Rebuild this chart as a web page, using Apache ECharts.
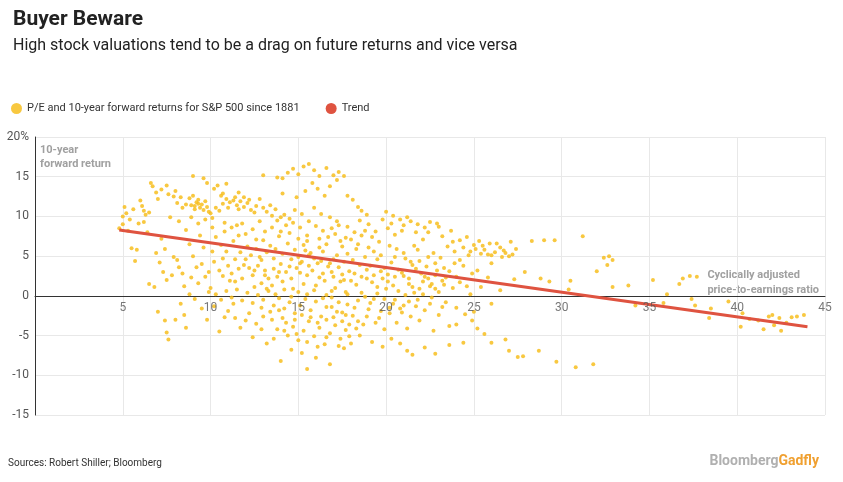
<!DOCTYPE html>
<html><head><meta charset="utf-8">
<script src="https://cdn.jsdelivr.net/npm/echarts@6/dist/echarts.min.js"></script>
<style>html,body{margin:0;padding:0;background:#fff}#c{width:843px;height:482px}</style>
</head><body><div id="c"></div>
<script>
var titleText = "Buyer Beware";
var subtitleText = "High stock valuations tend to be a drag on future returns and vice versa";
var scatterName = "P/E and 10-year forward returns for S&P 500 since 1881";
var trendName = "Trend";
var xTicks = [5,10,15,20,25,30,35,40,45];
var yTicks = [-15,-10,-5,0,5,10,15,20];
var trendLine = [[4.8,8.3],[44,-3.9]];
var points = [
[4.8,8.5],[5,10],[5,9],[5.1,11.2],[5.2,10.4],[5.3,8.2],[5.4,9.6],[5.5,6],[5.7,4.4],[5.8,5.8],[6,12],[6.1,11.3],[6.3,10.2],[6.5,10.5],[6.6,14.2],[6.7,13.8],[6.4,8],[6.2,9.3],[6.5,1.5],[6.8,1.1],[7,12.2],[7.2,13.4],[7.5,13.9],[7.3,3],[7.5,2],[7.8,2.6],[7,-2],[7.4,-3.1],[7.5,-4.6],[7.6,-5.5],[8,-3],[8.2,3.6],[8.5,1.2],[8.3,-1],[8.6,-4],[8.8,0.2],[7.9,12.5],[8.1,11.7],[8.3,12.4],[8.6,11.5],[8.8,12.3],[9,15.1],[9.2,11.8],[9.4,11.1],[9.6,10.8],[9.1,11.3],[9.3,11.6],[9.8,11.2],[10,10.4],[10.1,9.8],[9.6,14.8],[9.8,14.2],[10.2,13.5],[10.4,13.9],[10.6,12.6],[10.7,11.6],[10.9,12.2],[11.1,11.8],[11.3,12],[11.5,11.4],[11.7,11.9],[11.9,11.2],[12.1,11.7],[12.3,10.8],[12.5,10.5],[10.8,9.2],[11.2,8.6],[11.5,8.9],[11.8,9.1],[12,7.8],[12.4,8.4],[12.8,9.4],[13.2,10.6],[13.5,10.1],[13.8,9.5],[14.2,10.2],[14.5,9.7],[14.8,10.8],[15.2,10.3],[15.5,7.6],[8.8,6.5],[9,5],[9.2,3.6],[9.5,4],[9.7,2.4],[9.9,3],[10.2,4.3],[10.5,3.2],[10.7,2.5],[11,3.8],[11.2,2.8],[11.4,1.8],[11.6,3.4],[11.8,2.2],[12,4.6],[12.2,3.5],[12.4,2.6],[12.7,3.8],[12.9,4.5],[13.1,3.2],[13.3,2.2],[13.6,3.4],[13.8,2.4],[14,4],[14.3,3],[14.6,2.2],[14.9,3.5],[15.2,4.3],[15.5,2.6],[15.8,3.2],[16.1,4.1],[16.4,2.8],[16.7,3.7],[17,2.4],[17.3,3.6],[17.6,2],[17.9,3.1],[10.3,7.4],[10.6,6.4],[10.9,5.6],[11.3,6.9],[11.7,5.5],[12.1,6.2],[12.6,5.9],[13,7],[13.4,6.3],[13.9,7.5],[14.4,6.6],[14.8,5.8],[15.3,6.4],[15.7,5.4],[16.2,7.2],[16.6,6.5],[17.1,7.8],[17.5,6.2],[18,7.1],[18.4,6.5],[18.8,8.2],[19.2,7.4],[19.6,6.8],[20.1,8.5],[20.5,7.7],[21,8.9],[21.4,9.4],[21.8,9],[22.2,8.6],[22.5,9.3],[20,10.6],[20.4,10.1],[20.8,9.6],[21.2,9.9],[18.5,9.5],[18.9,10.2],[17.8,8.7],[17.2,9.4],[16.8,9.9],[16.3,10.3],[15.9,11.1],[10,1],[10.3,0.2],[10.6,-0.5],[10.9,0.6],[11.2,-0.2],[11.5,0.8],[11.8,-0.6],[12.1,0.4],[12.4,-0.9],[12.7,0.1],[13,-0.5],[13.3,0.6],[13.6,-1.2],[13.9,-0.3],[14.2,-1.6],[14.5,-0.8],[14.8,-2.2],[15.1,-1.2],[15.4,-0.4],[15.7,-1.8],[16,-0.7],[16.3,-2.6],[16.6,-1.4],[16.9,-0.2],[17.2,-2],[17.5,-3.2],[17.8,-1.1],[18.1,-2.5],[18.4,-0.6],[18.7,-3.6],[19,-1.7],[19.3,-0.4],[19.6,-2.8],[19.9,-4.2],[20.2,-1.5],[20.5,-0.5],[13.5,-3],[13.8,-4.2],[14.1,-2.8],[14.4,-5],[14.7,-3.9],[15,-5.6],[15.3,-4.4],[15.6,-3.2],[15.9,-5.1],[16.2,-4],[16.5,-6.1],[16.8,-4.7],[17.1,-3.7],[17.4,-5.4],[17.7,-4.3],[18,-6],[12.2,-2.2],[12.6,-3.5],[13,-2.6],[11.4,-2.8],[11,-1.9],[9.5,-1.6],[9.8,-3],[10.5,-4.5],[11.7,-4],[12.4,-5.2],[13.2,-6],[14.6,-6.8],[15.2,-7.2],[14,-8.2],[16,-7.8],[16.8,-8.6],[15.5,-9.2],[17.6,-6.6],[18.5,-5],[19.2,-5.8],[19.8,-6.4],[20.3,-5.4],[12.9,1.6],[13.5,1.3],[14.1,1.8],[14.7,0.9],[15.3,1.5],[15.9,0.7],[16.5,1.9],[17.1,1],[17.7,0.5],[18.3,1.4],[18.9,2.2],[19.5,1.1],[20.1,1.8],[20.7,0.6],[21.3,1.5],[21.9,0.9],[22.5,1.2],[23,0.5],[14.1,14.8],[14.4,15.5],[14.7,16],[15,15.3],[15.3,16.3],[15.6,16.6],[15.9,15.8],[16.2,15.1],[16.6,16.1],[17,15.2],[17.3,15.6],[17.6,15.1],[17.2,14.6],[16.8,13.8],[15.8,14.2],[13.8,14.9],[13,15.2],[17.8,12.6],[18.1,12.1],[18.4,11.2],[18.6,10.7],[14.9,12.4],[15.4,13.2],[16.1,13.5],[16.5,12.6],[19.1,3.8],[19.5,4.6],[19.9,3.5],[20.3,4.2],[20.7,3.3],[21.1,4.7],[21.5,3.9],[21.9,4.4],[22.3,3.7],[22.7,5.4],[23.1,4.8],[23.5,6.2],[23.9,5.6],[24.2,7],[24.6,7.4],[25,6.4],[25.3,6.9],[25.6,5.8],[25.9,6.6],[26.2,5.5],[26.5,6.1],[26.8,5.4],[27.1,6.8],[27.4,5.9],[24.8,5.6],[25.4,5.3],[26,5.1],[26.6,4.9],[27.2,5.2],[23.2,7.5],[23.7,8.2],[22.9,9.1],[22,2.8],[22.4,2.2],[22.8,2.6],[23.2,1.9],[23.6,3.1],[24,2.4],[24.4,3.8],[25.2,3.2],[26,4.1],[27.9,3],[28.3,6.9],[29,7],[29.6,7],[31.2,7.5],[28.8,2.2],[29.3,1.8],[30.5,1.9],[30.4,0.8],[32,3.1],[32.4,4.8],[32.7,5],[32.9,4.5],[32.6,3.9],[32.9,1.1],[33.8,1.3],[35.2,2],[36,0.2],[36.9,2.2],[37.3,2.5],[37.7,2.4],[36.7,1.5],[37.6,-1.2],[37.4,-0.4],[38.5,-1.6],[39.5,-0.7],[38.4,-2.8],[40.3,-2.2],[40.7,-2.9],[41.2,-3.1],[41.5,-4.2],[41.8,-2.6],[42.1,-3.7],[42.4,-2.8],[42.8,-3.4],[43.1,-2.7],[43.4,-2.6],[43.8,-2.4],[40.2,-3.9],[42.5,-4.4],[42,-2.4],[35.8,-0.9],[34.2,-1.2],[20.2,-2.2],[20.6,-3.4],[21,-1.2],[21.4,-2.6],[21.8,-0.5],[22.2,-1.8],[22.6,-0.2],[23,-2.4],[23.4,-0.8],[24,-1.5],[25,-2],[26,-1],[20.8,-6],[21.2,-6.9],[21.5,-7.4],[22.2,-6.5],[22.8,-7.3],[23.6,-6.2],[24.4,-5.9],[24,-3.6],[25.2,-4.1],[25.6,-4.8],[26,-5.9],[26.8,-5.5],[27,-6.9],[27.5,-7.7],[27.8,-7.6],[28.7,-6.9],[29.7,-8.3],[30.8,-9],[31.8,-8.6],[23.6,-3.8],[22.7,-4.4],[11.6,13],[10.9,14.1],[12.8,12.2],[13.4,11.4],[14.1,12.9],[9.4,7.6],[8.6,8.3],[7.7,9.9],[7.2,7.2],[6.9,5.4],[8.1,4.5],[9.1,-0.4],[8.5,-2.4],[16.6,0.1],[17.4,1.8],[18.2,2.8],[18.8,4.9],[19.3,5.6],[20.6,5.9],[21.6,6.3],[22.1,7.1],[15,4.9],[15.6,5.1],[16.4,5.6],[17,4.6],[17.8,5.3],[13.6,4.7],[12.5,1.1],[11.1,1.9],
[8.9,11.4],[9.1,10.9],[9.3,12.1],[9.5,11.5],[9.7,11.9],[9.9,10.6],[10.3,11.1],[10.5,10.7],[10.7,12.9],[11,11.1],[11.4,12.4],[11.6,10.9],[11.9,12.4],[12.2,12.1],[12.6,11.3],[13,11.1],[13.7,10.9],[14,9.9],[14.3,8.9],[14.7,9.2],[15.1,8.6],[15.6,9.4],[16,8.8],[16.4,8.2],[16.9,8.5],[17.3,8.9],[17.7,7.3],[18.2,8],[18.6,7.6],[19,9],[19.4,8.1],[19.8,9.6],[20.3,9.1],[20.9,8.2],[21.7,8],[22.4,8],[23,8.7],[9,12.6],[8.4,11.1],[8,13.2],[7.6,12.8],[6.9,13],[6.2,10.7],[5.6,10.9],[5.9,9.1],[12.3,5.1],[12.8,4.9],[13.2,5.5],[13.7,5.9],[14.1,5.3],[14.6,4.6],[15.1,4.1],[15.4,5.7],[15.9,4.7],[16.3,4.4],[16.8,4.1],[17.2,5.1],[17.6,4.3],[18.1,4.5],[18.5,3.9],[18.9,3.3],[19.3,2.6],[19.7,3.1],[20.1,2.7],[20.5,2.4],[20.9,2.9],[21.3,2.2],[21.7,3.4],[22.1,1.8],[22.6,1.5],[23.3,1.4],[23.8,1],[24.2,1.7],[24.6,1.2],[13.2,0.9],[13.7,0.2],[14.2,0.8],[14.6,-0.1],[15,0.5],[15.5,0.2],[16,1.3],[16.4,-0.3],[16.9,0.6],[17.3,-0.8],[17.8,0.2],[18.2,-1.5],[18.6,0.4],[19.1,-0.9],[19.5,0.3],[20,0.9],[20.4,-1],[20.8,-1.6],[21.3,-0.7],[21.7,-1.3],[22.1,0.2],[22.5,-1],[12.9,-1.5],[13.4,-2],[13.9,-1.8],[14.3,-3.4],[14.8,-3],[15.2,-2.4],[15.7,-2.7],[16.1,-3.4],[16.6,-3],[17,-2.7],[17.5,-2.1],[17.9,-3.6],[18.4,-3.2],[18.9,-2.6],[19.4,-3.4],[19.7,-1.9],[14.2,-4.4],[14.9,-4.8],[15.5,-5.8],[16.1,-6.4],[16.6,-5.2],[17.3,-6.3],[17.9,-5.1],[18.3,-4.1],[13.6,-5.4],[12.9,-4.2],[12,-3.1],[11.3,-1],[10.8,-2.7],[10.2,-1.3],[9.9,0.5],[9.3,1.6],[8.9,2.3],[8.4,2.8],[7.9,4.9],[7.4,5.9],[7.1,4.2],[9.6,6.1],[10.1,5.6],[10.7,4.7],[11.4,4.6],[11.9,3.9],[12.5,3.2],[13.1,2.6],[13.9,3],[14.5,3.7],[15.1,2.9],[15.6,3.8],[16.2,2.3],[16.9,3],[17.5,2.7],[18,1.9],[18.6,2.4],[19.2,1.7],[19.8,2.2],[20.4,1.3],[21,2.5],[21.5,1.1],[22.2,2.4],[22.9,3.2],[23.4,2.3],[24.2,4.5],[24.7,5.1],[25.1,5.9],[25.5,6.3],[25.8,5.2],[26.3,6.6],[26.7,5.7],[27,5],[24.4,6.1],[23.8,6.8],[20.5,4.9],[21,5.4],[21.4,4.3],[21.8,5.8],[22.4,4.9],[22.8,4.1],[23.3,3.5],[23.9,4.1],[19.7,5.1],[20.2,6.3],[19,6.1],[18.3,5.9],[17.4,6.9],[16.7,7.4],[16.2,6.1],[15.5,6.9],[15,7.2],[14.5,7.9],[14,8.1],[13.5,8.6],[13.1,8.1],[12.6,7.1],[11.6,7.6],[10.8,8.1],[10.1,8.6],[9.7,9.6],[9.3,9.1],[8.9,9.9],[8.2,9.4],[16.9,-1.4],[17.7,-2.4],[18.8,-0.1],[19.9,-0.4],[21.1,0.1],[21.6,0.4],[22.8,0.9],[24.8,0.2],[25.4,1.1],[26.5,0.7],[27.3,2.1],[25.8,2.3],[24.9,2.8],[23.2,-1.4],[24.5,-2.3],[24.9,-3.1],[21.9,-3.1],[21.2,-4.1],[20.9,-2.1]
];
var chart = echarts.init(document.getElementById('c'));
chart.setOption({
  animation:false,
  title:[{text:titleText,left:8,top:4,textStyle:{fontFamily:'Roboto',fontSize:21,fontWeight:'bold',color:'#222'}},
         {text:subtitleText,left:8,top:33,textStyle:{fontFamily:'Roboto',fontSize:16,fontWeight:'normal',color:'#222'}}],
  legend:{left:6,top:98,itemWidth:11,itemHeight:11,itemGap:26,icon:'circle',textStyle:{fontFamily:'Roboto',fontSize:11,color:'#333'},data:[scatterName,trendName]},
  grid:{left:35,right:18,top:137,bottom:67},
  xAxis:{type:'value',min:0,max:45,interval:5,
    axisLine:{onZero:true,lineStyle:{color:'#333'}},axisTick:{show:false},
    axisLabel:{show:false},
    splitLine:{lineStyle:{color:'#e8e8e8'}}},
  yAxis:{type:'value',min:-15,max:20,interval:5,
    axisLine:{show:true,lineStyle:{color:'#333'}},axisTick:{show:false},
    axisLabel:{color:'#555',fontFamily:'Roboto',fontSize:12,margin:6,formatter:function(v){return v===20?'20%':String(v);}},
    splitLine:{lineStyle:{color:'#e8e8e8'}}},
  graphic:[
    {type:'text',left:40,top:143,style:{text:'10-year\nforward return',fill:'#a0a0a0',font:'bold 11px Roboto',lineHeight:14}},
    {type:'text',right:24,top:268,style:{text:'Cyclically adjusted\nprice-to-earnings ratio',fill:'#a0a0a0',font:'bold 11px Roboto',lineHeight:15,align:'right'}},
    {type:'text',left:8,top:458,style:{text:'Sources: Robert Shiller; Bloomberg',fill:'#333',font:'10px Roboto'}},
    {type:'text',right:24,top:454,style:{rich:{a:{fill:'#b0b0b0',font:'bold 14px Roboto'},b:{fill:'#f0a030',font:'bold 14px Roboto'}},text:'{a|Bloomberg}{b|Gadfly}'}}
  ],
  series:[
    {name:scatterName,type:'scatter',symbolSize:4,data:points,itemStyle:{color:'#f7be1e',opacity:0.85},z:2},
    {name:trendName,type:'line',data:trendLine,symbol:'none',lineStyle:{color:'#df5340',width:3},itemStyle:{color:'#df5340'},z:3},
    {name:'xticks',type:'scatter',symbolSize:0,silent:true,z:5,data:xTicks.map(function(t){return [t,0];}),
     label:{show:true,position:'bottom',distance:6,formatter:function(p){return String(p.value[0]);},color:'#555',fontFamily:'Roboto',fontSize:12,backgroundColor:'rgba(255,255,255,0)'}}
  ]
});
</script></body></html>
